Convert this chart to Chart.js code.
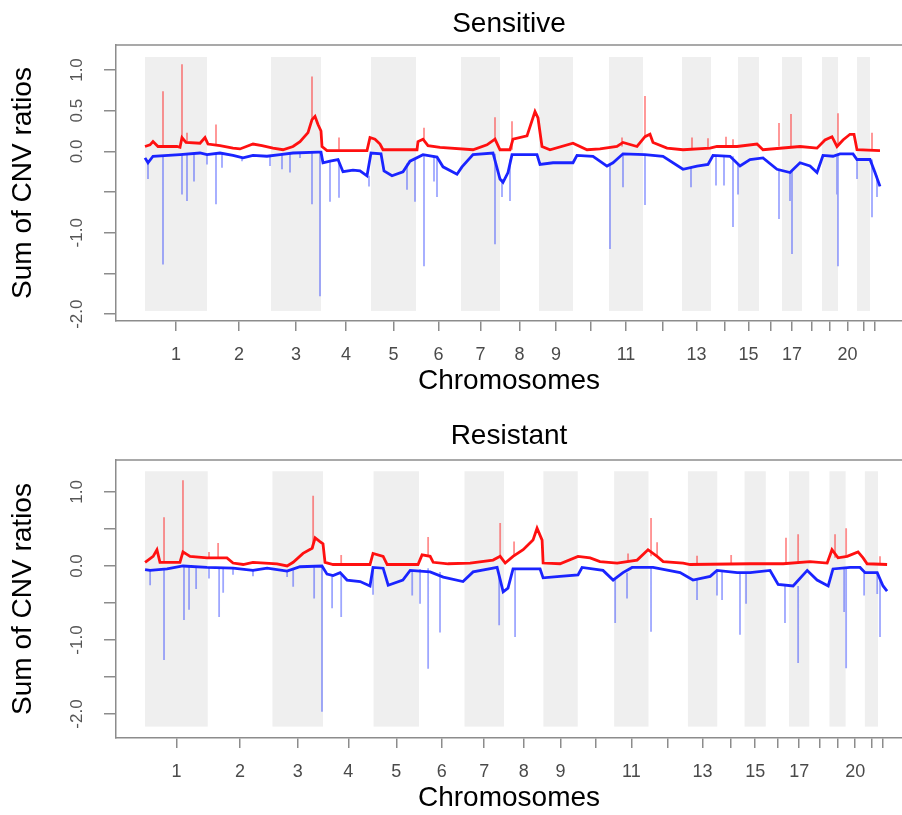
<!DOCTYPE html>
<html>
<head>
<meta charset="utf-8">
<script src="https://cdn.jsdelivr.net/npm/chart.js@4.4.1/dist/chart.umd.min.js"></script>
<style>
  html, body { margin: 0; padding: 0; background: #fff; overflow: hidden; }
  canvas { display: block; }
</style>
</head>
<body>
<canvas id="sensitiveChart" width="902" height="408"></canvas>
<canvas id="resistantChart" width="902" height="407"></canvas>
<script>
// chromosome layout (length in Mb-ish units)
const chromLabels = ["1", "2", "3", "4", "5", "6", "7", "8", "9", "10", "11",
  "12", "13", "14", "15", "16", "17", "18", "19", "20", "21", "22"];
const chromLengths = [248, 256, 200, 200, 180, 180, 156, 156, 136, 144, 136,
  156, 116, 108, 84, 92, 80, 80, 64, 76, 52, 40];
const shownChromLabels = ["1", "2", "3", "4", "5", "6", "7", "8", "9", "11", "13", "15", "17", "20"];
const yTickValues = [-2, -1.5, -1, -0.5, 0, 0.5, 1];

// Sensitive: [position, sum of ratios]
const sensGain = [[0, 0.06], [20, 0.08], [32, 0.12], [52, 0.06], [128, 0.06], [140, 0.05], [148, 0.17],
  [164, 0.11], [220, 0.10], [240, 0.17], [252, 0.09], [300, 0.07], [352, 0.04], [380, 0.03], [432, 0.09],
  [468, 0.07], [512, 0.04], [552, 0.02], [592, 0.06], [620, 0.12], [652, 0.23], [668, 0.39], [680, 0.43],
  [692, 0.33], [704, 0.25], [708, 0.06], [728, 0.01], [888, 0.01], [900, 0.17], [920, 0.15], [940, 0.09],
  [952, 0.02], [1088, 0.02], [1092, 0.12], [1112, 0.15], [1132, 0.07], [1180, 0.05], [1312, 0.02],
  [1368, 0.08], [1400, 0.15], [1420, 0.02], [1460, 0.02], [1472, 0.15], [1528, 0.19], [1560, 0.49],
  [1572, 0.41], [1588, 0.06], [1620, 0.02], [1712, 0.10], [1768, 0.02], [1820, 0.03], [1888, 0.06],
  [1912, 0.11], [1968, 0.06], [2000, 0.18], [2020, 0.21], [2032, 0.11], [2088, 0.04], [2152, 0.02],
  [2260, 0.04], [2288, 0.06], [2368, 0.06], [2448, 0.09], [2472, 0.02], [2620, 0.06], [2688, 0.04],
  [2720, 0.14], [2748, 0.18], [2768, 0.06], [2792, 0.14], [2820, 0.21], [2836, 0.21], [2848, 0.02], [2940, 0.01]];
const sensLoss = [[0, -0.08], [12, -0.14], [32, -0.06], [140, -0.04], [220, -0.02], [248, -0.04], [300, -0.02],
  [352, -0.05], [392, -0.08], [432, -0.05], [488, -0.06], [540, -0.04], [592, -0.02], [692, -0.01], [704, -0.01],
  [712, -0.14], [740, -0.12], [772, -0.10], [792, -0.25], [832, -0.23], [860, -0.24], [888, -0.30], [904, -0.02],
  [944, -0.03], [956, -0.24], [988, -0.30], [1032, -0.25], [1060, -0.12], [1112, -0.04], [1168, -0.07],
  [1192, -0.19], [1248, -0.28], [1268, -0.19], [1312, -0.04], [1392, -0.02], [1420, -0.34], [1432, -0.38],
  [1452, -0.26], [1468, -0.04], [1568, -0.04], [1580, -0.16], [1632, -0.14], [1712, -0.14], [1728, -0.05],
  [1792, -0.06], [1848, -0.18], [1872, -0.14], [1912, -0.03], [2000, -0.04], [2072, -0.06], [2152, -0.22],
  [2208, -0.18], [2252, -0.16], [2272, -0.05], [2340, -0.06], [2380, -0.18], [2420, -0.10], [2472, -0.08],
  [2528, -0.22], [2580, -0.26], [2620, -0.14], [2660, -0.18], [2688, -0.26], [2712, -0.05], [2752, -0.06],
  [2780, -0.03], [2832, -0.03], [2848, -0.10], [2900, -0.10], [2920, -0.26], [2940, -0.43]];
// spikes: [position, from, to]
const sensGainSpikes = [[72, 0.06, 0.74], [148, 0.15, 1.07], [168, 0.12, 0.23], [284, 0.08, 0.33],
  [668, 0.39, 0.92], [776, 0.02, 0.17], [1116, 0.14, 0.29], [1400, 0.14, 0.42], [1468, 0.02, 0.37],
  [1908, 0.06, 0.17], [2000, 0.18, 0.68], [2188, 0.02, 0.17], [2252, 0.04, 0.16], [2324, 0.06, 0.18],
  [2352, 0.06, 0.15], [2536, 0.06, 0.35], [2584, 0.06, 0.46], [2772, 0.08, 0.47], [2908, 0.02, 0.23]];
const sensLossSpikes = [[12, -0.12, -0.34], [72, -0.05, -1.39], [148, -0.04, -0.53], [168, -0.04, -0.61],
  [196, -0.03, -0.37], [248, -0.04, -0.16], [284, -0.03, -0.65], [308, -0.02, -0.20], [388, -0.08, -0.12],
  [500, -0.05, -0.18], [548, -0.04, -0.22],
  [580, -0.03, -0.26], [620, -0.02, -0.08], [668, -0.02, -0.65], [700, -0.02, -1.78], [740, -0.12, -0.62], [776, -0.10, -0.57],
  [896, -0.30, -0.43], [1048, -0.15, -0.47], [1080, -0.08, -0.62], [1116, -0.05, -1.41], [1156, -0.05, -0.37],
  [1168, -0.06, -0.56], [1400, -0.03, -1.14], [1428, -0.34, -0.56], [1460, -0.10, -0.61], [1860, -0.15, -1.20],
  [1912, -0.04, -0.44], [2000, -0.04, -0.66], [2184, -0.20, -0.44], [2284, -0.05, -0.42], [2316, -0.05, -0.42],
  [2352, -0.06, -0.93], [2372, -0.15, -0.53], [2536, -0.22, -0.83], [2580, -0.26, -0.61], [2588, -0.24, -1.26],
  [2768, -0.06, -0.53], [2772, -0.04, -1.41], [2848, -0.08, -0.34], [2908, -0.10, -0.81], [2928, -0.30, -0.56]];

// Resistant
const resGain = [[0, 0.05], [32, 0.13], [47, 0.22], [59, 0.05], [138, 0.05], [150, 0.19], [178, 0.13],
  [245, 0.11], [324, 0.11], [348, 0.04], [388, 0.02], [427, 0.05], [522, 0.03], [562, 0.00], [586, 0.05],
  [625, 0.17], [661, 0.24], [673, 0.38], [692, 0.33], [704, 0.30], [712, 0.05], [744, 0.02], [890, 0.02],
  [902, 0.17], [942, 0.13], [958, 0.02], [1080, 0.02], [1096, 0.15], [1128, 0.13], [1140, 0.05], [1199, 0.03],
  [1286, 0.04], [1377, 0.08], [1405, 0.13], [1425, 0.04], [1456, 0.13], [1496, 0.22], [1535, 0.35],
  [1551, 0.51], [1571, 0.35], [1575, 0.04], [1642, 0.03], [1713, 0.13], [1761, 0.11], [1800, 0.06],
  [1868, 0.04], [1947, 0.08], [1990, 0.22], [2026, 0.13], [2050, 0.06], [2129, 0.04], [2157, 0.02],
  [2394, 0.03], [2525, 0.03], [2631, 0.06], [2699, 0.04], [2718, 0.22], [2742, 0.11], [2778, 0.13],
  [2821, 0.19], [2841, 0.11], [2857, 0.03], [2936, 0.02]];
const resLoss = [[0, -0.05], [20, -0.06], [87, -0.04], [150, 0.00], [245, -0.02], [348, -0.03], [427, -0.06],
  [483, -0.03], [562, -0.07], [613, -0.01], [700, 0.00], [720, -0.11], [744, -0.13], [772, -0.09], [799, -0.19],
  [851, -0.21], [890, -0.27], [902, -0.02], [942, -0.03], [962, -0.26], [1020, -0.19], [1049, -0.06],
  [1128, -0.08], [1180, -0.15], [1258, -0.21], [1298, -0.08], [1393, -0.02], [1417, -0.35], [1436, -0.30],
  [1456, -0.04], [1563, -0.04], [1575, -0.16], [1642, -0.14], [1713, -0.12], [1729, -0.02], [1812, -0.06],
  [1852, -0.19], [1891, -0.09], [1927, -0.02], [2010, -0.02], [2117, -0.09], [2168, -0.19], [2236, -0.14],
  [2263, -0.06], [2343, -0.09], [2394, -0.09], [2473, -0.06], [2505, -0.25], [2564, -0.27], [2620, -0.06],
  [2659, -0.19], [2703, -0.27], [2722, -0.04], [2790, -0.02], [2829, -0.02], [2849, -0.09], [2897, -0.09],
  [2920, -0.27], [2936, -0.34]];
const resGainSpikes = [[75, 0.05, 0.66], [150, 0.19, 1.16], [253, 0.11, 0.19], [289, 0.10, 0.31],
  [665, 0.24, 0.95], [776, 0.02, 0.15], [1120, 0.13, 0.39], [1405, 0.13, 0.58], [1460, 0.13, 0.33],
  [1911, 0.06, 0.17], [2002, 0.13, 0.65], [2026, 0.13, 0.32], [2184, 0.03, 0.14], [2319, 0.03, 0.15],
  [2536, 0.03, 0.38], [2584, 0.03, 0.43], [2730, 0.11, 0.43], [2774, 0.13, 0.51], [2908, 0.02, 0.13]];
const resLossSpikes = [[20, -0.06, -0.26], [75, -0.04, -1.27], [154, 0.00, -0.73], [174, -0.01, -0.59],
  [202, -0.01, -0.31], [253, -0.02, -0.17], [293, -0.02, -0.69], [309, -0.02, -0.36], [348, -0.03, -0.12],
  [427, -0.06, -0.14], [562, -0.07, -0.15], [586, -0.05, -0.28],
  [669, -0.01, -0.44], [700, 0.00, -1.97], [740, -0.12, -0.57], [776, -0.10, -0.69], [902, -0.05, -0.39],
  [1057, -0.06, -0.40], [1088, -0.04, -0.51], [1120, -0.03, -1.39], [1167, -0.08, -0.90], [1401, -0.10, -0.80],
  [1464, -0.04, -0.96], [1860, -0.19, -0.77], [1907, -0.09, -0.44], [2002, -0.02, -0.89], [2184, -0.19, -0.46],
  [2263, -0.06, -0.40], [2283, -0.08, -0.46], [2354, -0.09, -0.93], [2378, -0.09, -0.51], [2532, -0.25, -0.77],
  [2584, -0.27, -1.31], [2766, -0.04, -0.62], [2774, -0.04, -1.38], [2845, -0.09, -0.40], [2897, -0.09, -0.38],
  [2908, -0.20, -0.96]];

const fontFamily = "'Liberation Sans', Arial, sans-serif";
const boxColor = "#8c8c8c";

const chromStarts = [];
let acc = 0;
chromLengths.forEach((len) => { chromStarts.push(acc); acc += len; });
const chromCenters = chromLengths.map((len, i) => chromStarts[i] + len / 2);

// grey bands behind odd chromosomes + top edge of the box
const chromBands = {
    id: "chromBands",
    beforeDatasetsDraw(chart, args, opts) {
        const { ctx, scales: { x, y } } = chart;
        const yTop = y.getPixelForValue(opts.range[1]);
        const yBot = y.getPixelForValue(opts.range[0]);
        ctx.save();
        ctx.fillStyle = "#efefef";
        chromStarts.forEach((start, i) => {
            if (i % 2) return;
            const x0 = x.getPixelForValue(start);
            const x1 = x.getPixelForValue(start + chromLengths[i]);
            ctx.fillRect(x0, yTop, x1 - x0, yBot - yTop);
        });
        ctx.restore();
    },
    afterDraw(chart) {
        const { ctx, chartArea } = chart;
        ctx.save();
        ctx.strokeStyle = boxColor;
        ctx.lineWidth = 1.5;
        ctx.beginPath();
        ctx.moveTo(chartArea.left, chartArea.top);
        ctx.lineTo(chartArea.right, chartArea.top);
        ctx.stroke();
        ctx.restore();
    },
};

const toPoints = (arr) => arr.map(([x, y]) => ({ x, y }));
function spikePoints(arr) {
    const pts = [];
    arr.forEach(([x, from, to]) => {
        pts.push({ x, y: from }, { x, y: to }, { x, y: null });
    });
    return pts;
}

function buildChart(id, p) {
    new Chart(document.getElementById(id), {
        type: "line",
        data: {
            datasets: [
                { data: toPoints(p.gain), borderColor: "#ff1010", borderWidth: 2.8 },
                { data: toPoints(p.loss), borderColor: "#1a24ff", borderWidth: 2.8 },
                { data: spikePoints(p.gainSpikes), borderColor: "rgba(255,30,30,0.5)", borderWidth: 1.8 },
                { data: spikePoints(p.lossSpikes), borderColor: "rgba(40,60,255,0.45)", borderWidth: 1.8 },
            ],
        },
        options: {
            responsive: false,
            animation: false,
            devicePixelRatio: 1,
            spanGaps: false,
            elements: { point: { radius: 0 }, line: { tension: 0 } },
            layout: { padding: 0 },
            plugins: {
                legend: { display: false },
                tooltip: { enabled: false },
                title: {
                    display: true,
                    fullSize: false,
                    text: p.title,
                    color: "#000",
                    font: { family: fontFamily, size: 28, weight: "normal" },
                    padding: p.titlePadding,
                },
                chromBands: { range: p.band },
            },
            scales: {
                x: {
                    type: "linear",
                    min: p.xRange[0],
                    max: p.xRange[1],
                    afterBuildTicks: (s) => { s.ticks = chromCenters.map((v) => ({ value: v })); },
                    afterFit: (s) => { s.height = p.xAxisHeight; },
                    grid: { drawOnChartArea: false, drawTicks: true, tickLength: 10, tickColor: boxColor, lineWidth: 1.5 },
                    border: { color: boxColor, width: 1.5 },
                    ticks: {
                        autoSkip: false,
                        maxRotation: 0,
                        minRotation: 0,
                        padding: 13,
                        color: "#4a4a4a",
                        font: { family: fontFamily, size: 18 },
                        callback: (v, i) => (shownChromLabels.includes(chromLabels[i]) ? chromLabels[i] : ""),
                    },
                    title: {
                        display: true,
                        text: "Chromosomes",
                        color: "#000",
                        font: { family: fontFamily, size: 28 },
                        padding: { top: 0, bottom: p.xTitlePad },
                    },
                },
                y: {
                    min: p.yRange[0],
                    max: p.yRange[1],
                    afterBuildTicks: (s) => { s.ticks = yTickValues.map((v) => ({ value: v })); },
                    afterFit: (s) => { s.width = 116; },
                    grid: { drawOnChartArea: false, drawTicks: true, tickLength: 12, tickColor: boxColor, lineWidth: 1.5 },
                    border: { color: boxColor, width: 1.5 },
                    ticks: {
                        minRotation: 90,
                        maxRotation: 90,
                        crossAlign: "center",
                        padding: 12,
                        color: "#555",
                        font: { family: fontFamily, size: 17 },
                        callback: (v) => (p.yLabels.includes(v) ? v.toFixed(1) : ""),
                    },
                    title: {
                        display: true,
                        text: "Sum of CNV ratios",
                        color: "#000",
                        font: { family: fontFamily, size: 28 },
                        padding: { top: 6, bottom: 0 },
                    },
                },
            },
        },
        plugins: [chromBands],
    });
}

buildChart("sensitiveChart", {
    title: "Sensitive",
    gain: sensGain,
    loss: sensLoss,
    gainSpikes: sensGainSpikes,
    lossSpikes: sensLossSpikes,
    band: [-1.96, 1.16],
    xRange: [-116, 3028],
    yRange: [-2.084, 1.307],
    yLabels: [1, 0.5, 0, -1, -2],
    titlePadding: { top: 7, bottom: 4.4 },
    xAxisHeight: 87,
    xTitlePad: 10,
});

buildChart("resistantChart", {
    title: "Resistant",
    gain: resGain,
    loss: resLoss,
    gainSpikes: resGainSpikes,
    lossSpikes: resLossSpikes,
    band: [-2.17, 1.28],
    xRange: [-115, 2995],
    yRange: [-2.324, 1.432],
    yLabels: [1, 0, -1, -2],
    titlePadding: { top: 11.2, bottom: 7.2 },
    xAxisHeight: 77,
    xTitlePad: 0,
});
</script>
</body>
</html>
